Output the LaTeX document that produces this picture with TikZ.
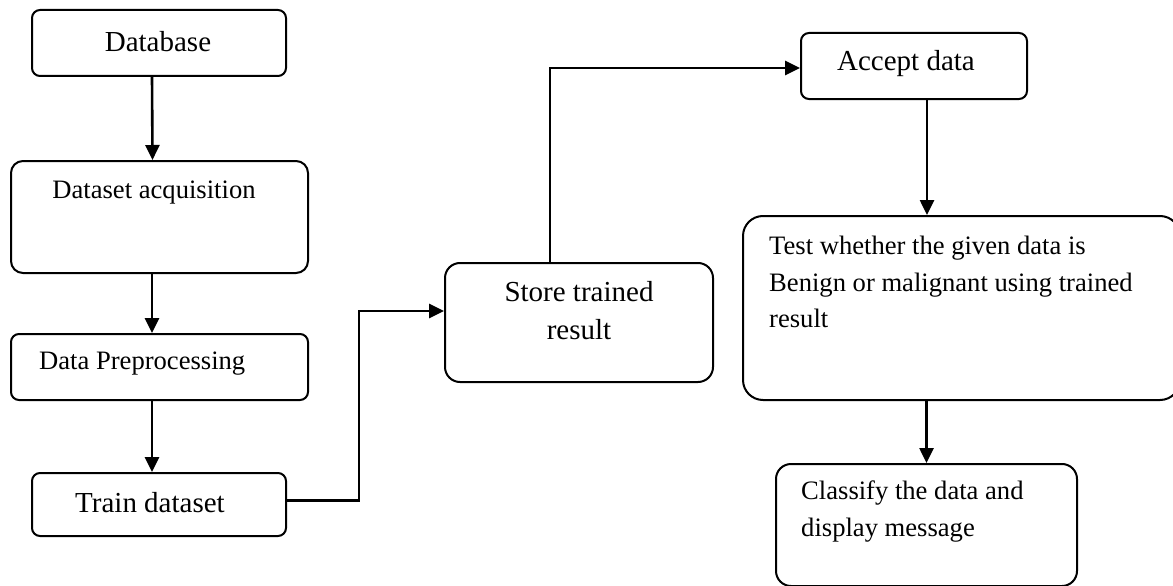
\documentclass[tikz,border=0pt]{standalone}
\usepackage{fontspec}
\setmainfont{Liberation Serif}
\usetikzlibrary{arrows.meta}

\tikzset{
  box/.style={draw=black, line width=2pt, inner sep=0pt},
  arr/.style={line width=2.6pt, -{Triangle[length=15pt,width=14pt]}},
  big/.style={inner sep=0pt, font=\fontsize{29}{38}\selectfont},
  small/.style={inner sep=0pt, font=\fontsize{26.6}{36.5}\selectfont}
}

\begin{document}
\begin{tikzpicture}[x=1pt,y=-1pt]
	\useasboundingbox (0,0) rectangle (1173,586);
	
	% left column
	\node[box, rounded corners=8pt, minimum width=254pt, minimum height=66pt] (db) at (159,43) {};
	\node[big] (dbtxt) at (158,42) {Database};
	
	\node[box, rounded corners=12pt, minimum width=297pt, minimum height=112pt] (acq) at (159.5,217) {};
	\node[small] (acqtxt) at (154,193) {Dataset acquisition};
	
	\node[box, rounded corners=8pt, minimum width=297pt, minimum height=66pt] (pre) at (159.5,367) {};
	\node[small, anchor=west] (pretxt) at (39,364) {Data Preprocessing};
	
	\node[box, rounded corners=8pt, minimum width=254pt, minimum height=63pt] (train) at (159,504.5) {};
	\node[big] (traintxt) at (150,503) {Train dataset};
	
	% middle
	\node[box, rounded corners=15pt, minimum width=268pt, minimum height=119pt] (store) at (579,322.5) {};
	\node[big, align=center] (storetxt) at (579,311) {Store trained\\result};
	
	% right column
	\node[box, rounded corners=8pt, minimum width=226pt, minimum height=66pt] (accept) at (914,66) {};
	\node[big] (accepttxt) at (906,64) {Accept data};
	
	\node[box, rounded corners=20pt, minimum width=437pt, minimum height=184pt] (test) at (961.5,308) {};
	\node[small, align=left, anchor=north west] (testtxt) at (769,236) {Test whether the given data is\\Benign or malignant using trained\\result};
	
	\node[box, rounded corners=15pt, minimum width=301pt, minimum height=122pt] (cls) at (926.5,525) {};
	\node[small, align=left, anchor=north west] (clstxt) at (801,481) {Classify the data and\\display message};
	
	% connectors
	\draw[arr] ([xshift=-7pt]db.south) -- ([xshift=-7pt]acq.north);
	\draw[arr] ([xshift=-7.5pt]acq.south) -- ([xshift=-7.5pt]pre.north);
	\draw[arr] ([xshift=-7.5pt]pre.south) -- ([xshift=-7pt]train.north);
	\draw[arr] ([yshift=4pt]train.east) -- ++(72,0) |- ([yshift=11.5pt]store.west);
	\draw[arr] ([xshift=-29pt]store.north) |- ([yshift=-2pt]accept.west);
	\draw[arr] ([xshift=13pt]accept.south) -- ([xshift=13pt]accept.south |- test.north);
	\draw[arr] (cls.north |- test.south) -- (cls.north);
\end{tikzpicture}
\end{document}
